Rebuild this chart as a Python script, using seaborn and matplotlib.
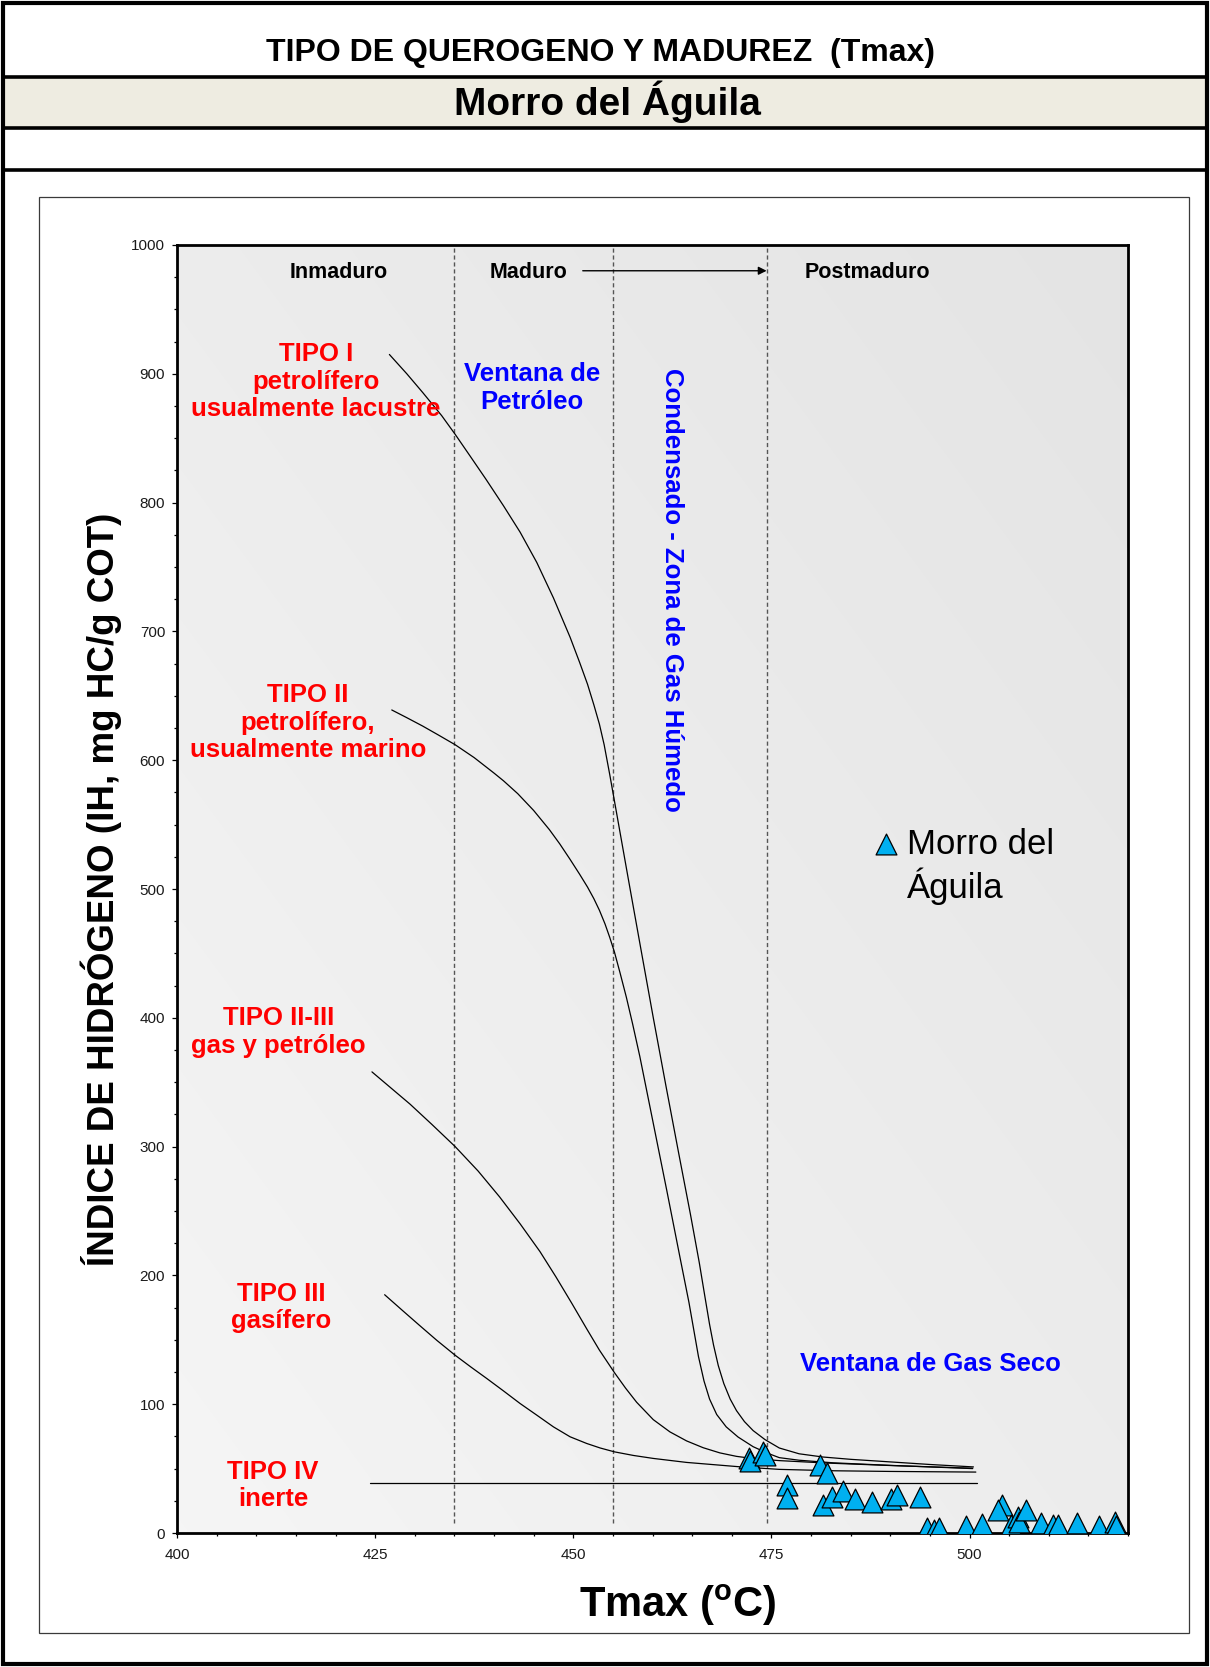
import numpy as np
import pandas as pd
import matplotlib
matplotlib.use("Agg")
import matplotlib.pyplot as plt
import seaborn as sns
from matplotlib.patches import Rectangle
from matplotlib.lines import Line2D
from matplotlib.colors import LinearSegmentedColormap
from matplotlib.ticker import MultipleLocator

# ---------------- data ----------------
tmax_muestras = [472.2, 472.3, 473.9, 474.2, 481.1, 482.0, 477.0, 477.0, 481.5, 482.6,
                 484.1, 485.6, 487.7, 490.1, 490.9, 493.7, 494.7, 495.5, 496.2, 499.5,
                 501.6, 504.1, 503.6, 505.2, 506.1, 506.3, 507.1, 509.0, 510.5, 511.2,
                 513.6, 516.3, 518.3, 518.5]
ih_muestras = [58.4, 56.0, 63.0, 60.5, 52.7, 46.3, 37.2, 27.4, 21.7, 28.2,
               32.6, 26.1, 23.8, 26.1, 29.5, 28.2, 3.6, 2.3, 4.1, 5.4,
               7.0, 21.7, 17.8, 6.2, 12.7, 8.8, 17.8, 8.0, 6.2, 6.2,
               8.0, 5.7, 8.8, 5.7]

tipo1_tmax = [426.8, 429.0, 431.0, 433.4, 435.1, 437.0, 439.0, 441.2, 443.3, 445.4,
              447.5, 449.6, 450.8, 451.8, 452.6, 453.3, 453.9, 454.6, 455.7, 457.0,
              458.4, 460.1, 461.7, 463.3, 464.8, 465.9, 466.6, 467.2, 467.7, 468.3,
              469.0, 469.8, 470.6, 471.6, 472.7, 474.2, 476.0, 478.5, 481.5, 485.0,
              490.0, 495.0, 500.5]
tipo1_ih = [915, 900, 885.5, 867.5, 853, 836, 818, 797.5, 777, 753.5,
            726, 695.5, 676, 659, 643, 628, 612, 589, 551, 506,
            458, 400, 347, 295, 247, 210, 184, 162, 146, 130,
            116, 104, 95, 86.5, 79.5, 72.5, 66, 61.5, 59, 57.2,
            55.2, 53.2, 51.3]

tipo2_tmax = [427.1, 429.0, 431.0, 433.0, 435.1, 437.5, 440.0, 441.2, 443.0, 445.0,
              447.0, 448.3, 449.6, 450.8, 451.8, 452.6, 453.3, 454.0, 454.6, 455.2,
              455.9, 456.7, 457.5, 458.4, 460.1, 461.8, 463.5, 464.6, 465.2, 465.8,
              466.5, 467.2, 468.1, 469.3, 470.8, 472.7, 474.5, 476.0, 478.5, 482.8,
              490.0, 495.0, 500.4]
tipo2_ih = [639, 633, 626.5, 619.5, 612, 602, 590, 584, 574, 561,
            546, 535, 523, 511.5, 501.5, 492.5, 483.5, 473, 462.5, 451,
            435, 416, 395, 370, 318, 266, 213, 179, 158, 137,
            118, 104, 92, 82.4, 74.5, 67, 62, 58.5, 56.5, 54.5,
            52.5, 51.3, 50]

tipo23_tmax = [424.6, 427.0, 429.4, 432.2, 435.1, 438.0, 440.7, 443.3, 445.8, 447.8,
               449.8, 451.7, 453.3, 455.2, 456.6, 458.0, 460.1, 462.2, 464.3, 466.4,
               468.5, 470.6, 472.7, 476.0, 482.0, 490.0, 500.4]
tipo23_ih = [358, 345.5, 333, 317, 300, 281, 261, 240, 218.5, 199,
             178.5, 158.5, 142, 124.5, 112.5, 101.5, 88, 78.5, 71.5, 66.2,
             62.2, 59.5, 57.8, 56.2, 54.3, 52.4, 50.3]

tipo3_tmax = [426.2, 428.5, 430.6, 432.8, 435.1, 437.1, 439.1, 441.2, 443.3, 445.4,
              447.5, 449.6, 451.7, 453.4, 455.2, 457.6, 460.1, 464.3, 471.0, 476.0,
              483.0, 490.0, 500.8]
tipo3_ih = [185, 172.5, 161.2, 149.5, 138, 128.8, 119.9, 110.3, 100.5, 91.5,
            82.4, 74.7, 69.5, 66, 63, 60.2, 57.9, 54.8, 51.4, 49.4,
            48.3, 47.8, 47.3]

tipo4_tmax = [424.3, 501.0]
tipo4_ih = [38.5, 38.5]

limites_madurez = [435, 455, 474.5]

x_ticks = [400, 425, 450, 475, 500]
y_ticks = [0, 100, 200, 300, 400, 500, 600, 700, 800, 900, 1000]

# ---------------- style ----------------
sns.set_theme(style="white")
plt.rcParams['font.family'] = ['Liberation Sans', 'DejaVu Sans']
plt.rcParams['text.color'] = 'black'
plt.rcParams['axes.labelcolor'] = 'black'
plt.rcParams['mathtext.fontset'] = 'custom'
plt.rcParams['mathtext.rm'] = 'Liberation Sans'
plt.rcParams['mathtext.bf'] = 'Liberation Sans:bold'

W, H = 1210, 1667
fig = plt.figure(figsize=(W / 100, H / 100), dpi=100)
fig.patch.set_facecolor('white')


def fx(px):
    return px / W


def fy(py):
    return 1 - py / H


# header decorations
fig.add_artist(Rectangle((fx(3), fy(128)), fx(1207) - fx(3), fy(77) - fy(128),
                         transform=fig.transFigure, facecolor='#EEECE1', edgecolor='none', zorder=0))
for yy in [77, 128, 170]:
    fig.add_artist(Line2D([fx(3), fx(1207)], [fy(yy), fy(yy)], transform=fig.transFigure,
                          color='black', lw=2.6, zorder=2))
fig.add_artist(Rectangle((fx(3), fy(1664)), fx(1207) - fx(3), fy(3) - fy(1664),
                         transform=fig.transFigure, fill=False, edgecolor='black', lw=3, zorder=3))
fig.add_artist(Rectangle((fx(39), fy(1633)), fx(1189) - fx(39), fy(197) - fy(1633),
                         transform=fig.transFigure, fill=False, edgecolor='#3a3a3a', lw=0.9, zorder=1))

fig.text(fx(600), fy(53), 'TIPO DE QUEROGENO Y MADUREZ  (Tmax)', ha='center', va='center',
         fontsize=23, fontweight='bold', color='black')
fig.text(fx(607), fy(102), 'Morro del Águila', ha='center', va='center',
         fontsize=28, fontweight='bold', color='black')

# ---------------- axes ----------------
ax = fig.add_axes([fx(177), fy(1533), fx(1128) - fx(177), fy(245) - fy(1533)])

grad_cmap = LinearSegmentedColormap.from_list('fondo', ['#F5F5F5', '#E4E4E4'])
gx, gy = np.meshgrid(np.linspace(0, 1, 200), np.linspace(0, 1, 200))
ax.imshow((gx * 0.5 + gy * 0.5), extent=[400, 520, 0, 1000], origin='lower', aspect='auto',
          cmap=grad_cmap, zorder=0, interpolation='bilinear')

for xv in limites_madurez:
    ax.plot([xv, xv], [8, 1000], ls=(0, (3, 2)), color='#555555', lw=1.0, zorder=1)

curvas = [(tipo1_tmax, tipo1_ih), (tipo2_tmax, tipo2_ih), (tipo23_tmax, tipo23_ih),
          (tipo3_tmax, tipo3_ih), (tipo4_tmax, tipo4_ih)]
for cx, cy in curvas:
    sns.lineplot(x=cx, y=cy, ax=ax, color='black', lw=0.9, sort=False, estimator=None,
                 legend=False, zorder=2)

sns.scatterplot(x=tmax_muestras, y=ih_muestras, ax=ax, marker='^', s=225, color='#00B0F0',
                edgecolor='black', linewidth=0.9, zorder=5, label='Morro del\nÁguila')

ax.set_xlim(400, 520)
ax.set_ylim(0, 1000)
ax.set_xticks(x_ticks)
ax.set_yticks(y_ticks)
ax.xaxis.set_minor_locator(MultipleLocator(5))
ax.yaxis.set_minor_locator(MultipleLocator(25))
ax.tick_params(which='both', direction='out', bottom=True, left=True, top=False, right=False,
               color='black', width=0.9)
ax.tick_params(which='major', length=3.5, labelsize=11, labelcolor='#1a1a1a')
ax.tick_params(which='minor', length=2.2)
ax.tick_params(axis='x', which='major', pad=7)
ax.tick_params(axis='y', which='major', pad=5)
ax.set_xlabel('')
ax.set_ylabel('')
for sp in ax.spines.values():
    sp.set_visible(True)
    sp.set_color('black')
    sp.set_linewidth(2.0)

# maturity labels
ax.text(420.4, 979, 'Inmaduro', ha='center', va='center', fontsize=15.5, fontweight='bold', color='black')
ax.text(444.3, 979, 'Maduro', ha='center', va='center', fontsize=15.5, fontweight='bold', color='black')
ax.text(487.1, 979, 'Postmaduro', ha='center', va='center', fontsize=15.5, fontweight='bold', color='black')
ax.annotate('', xy=(474.4, 980), xytext=(451.2, 980),
            arrowprops=dict(arrowstyle='-|>', color='black', lw=1.0, mutation_scale=12,
                            shrinkA=0, shrinkB=0))

rojo = '#FF0000'
azul = '#0000FF'
kw = dict(ha='center', va='center', fontsize=18.5, fontweight='bold', linespacing=1.19)
ax.text(417.5, 894, 'TIPO I\npetrolífero\nusualmente lacustre', color=rojo, **kw)
ax.text(416.5, 629, 'TIPO II\npetrolífero,\nusualmente marino', color=rojo, **kw)
ax.text(412.8, 389, 'TIPO II-III\ngas y petróleo', color=rojo, **kw)
ax.text(413.1, 175, 'TIPO III\ngasífero', color=rojo, **kw)
ax.text(412.1, 37, 'TIPO IV\ninerte', color=rojo, **kw)

ax.text(444.8, 889, 'Ventana de\nPetróleo', color=azul, **kw)
ax.text(462.4, 732, 'Condensado - Zona de Gas Húmedo', color=azul, rotation=270,
        ha='center', va='center', fontsize=18.5, fontweight='bold')
ax.text(495.1, 131, 'Ventana de Gas Seco', color=azul, ha='center', va='center',
        fontsize=18.5, fontweight='bold')

# legend
leg = ax.legend(loc='upper left', bbox_to_anchor=(0.7308, 0.5474), frameon=False, fontsize=25,
                handlelength=0.8, handleheight=1.14, handletextpad=0.2, borderpad=0,
                borderaxespad=0, labelspacing=0)
for t in leg.get_texts():
    t.set_linespacing(1.22)
    t.set_color('black')
try:
    for col in leg._legend_handle_box.get_children():
        for item in col.get_children():
            item.align = 'top'
except Exception:
    pass

# axis titles
fig.text(fx(101), fy(889), 'ÍNDICE DE HIDRÓGENO (IH, mg HC/g COT)', rotation=90,
         ha='center', va='center', fontsize=26.5, fontweight='bold', color='black')
fig.text(fx(678), fy(1605), r'Tmax ($^{\mathbf{o}}$C)', ha='center', va='center',
         fontsize=30, fontweight='bold', color='black')

fig.savefig('out.png', dpi=100, facecolor='white')
